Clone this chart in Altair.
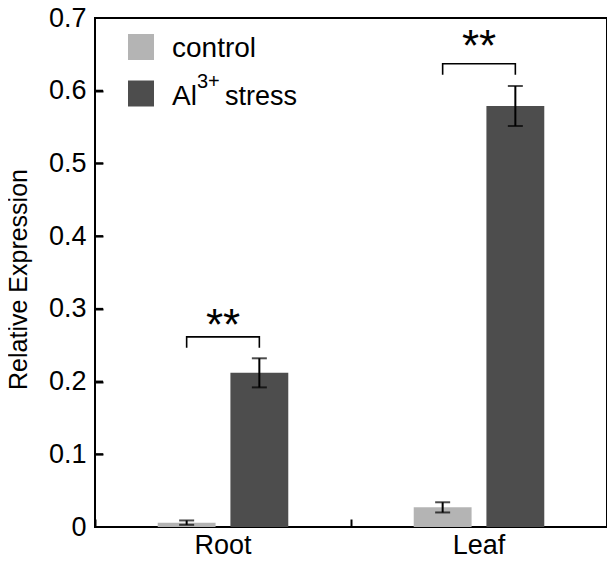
import altair as alt
import pandas as pd

tissues = ["Root", "Leaf"]
treatments = ["control", "Al3+ stress"]
control_mean = [0.006, 0.027]
control_err = [0.003, 0.007]
stress_mean = [0.212, 0.579]
stress_err = [0.020, 0.0275]
bracket_top = [0.2615, 0.637]
bracket_drop = [0.2465, 0.622]
star_level = [0.286, 0.670]
stars = ["**", "**"]
bar_colors = ["#b4b4b4", "#4d4d4d"]
y_ticks = [0, 0.1, 0.2, 0.3, 0.4, 0.5, 0.6, 0.7]
inner_ticks = [0.1, 0.2, 0.3, 0.4, 0.5, 0.6]

rows = []
for i, t in enumerate(tissues):
    rows.append({"tissue": t, "treatment": treatments[0], "mean": control_mean[i], "err": control_err[i]})
    rows.append({"tissue": t, "treatment": treatments[1], "mean": stress_mean[i], "err": stress_err[i]})
df = pd.DataFrame(rows)
df["lo"] = df["mean"] - df["err"]
df["hi"] = df["mean"] + df["err"]

brows = []
for i, t in enumerate(tissues):
    brows += [
        {"tissue": t, "treatment": treatments[0], "v": bracket_drop[i], "o": 0},
        {"tissue": t, "treatment": treatments[0], "v": bracket_top[i], "o": 1},
        {"tissue": t, "treatment": treatments[1], "v": bracket_top[i], "o": 2},
        {"tissue": t, "treatment": treatments[1], "v": bracket_drop[i], "o": 3},
    ]
bdf = pd.DataFrame(brows)
sdf = pd.DataFrame({"tissue": tissues, "level": star_level, "txt": stars})
tdf = pd.DataFrame({"tickval": inner_ticks})

FONT = "Liberation Sans"
PO, PI = 0.245, 0.49
W, H = 512, 509
xscale = alt.Scale(domain=tissues, paddingInner=PI, paddingOuter=PO)
oscale = alt.Scale(domain=treatments, paddingInner=0.204, paddingOuter=0)
yscale = alt.Scale(domain=[0, 0.7], nice=False, zero=True)

main_x_axis = alt.Axis(orient="bottom", title=None, ticks=False, domain=False, labelAngle=0,
                       labelFontSize=27, labelColor="black", labelPadding=26,
                       labelBaseline="alphabetic", labelFont=FONT)
main_y_axis = alt.Axis(orient="left", title="Relative Expression", values=y_ticks, ticks=False,
                       domain=False, grid=False, labelFontSize=27, labelColor="black",
                       labelPadding=9, titleFontSize=25, titleFontWeight="normal",
                       titleColor="black", titleX=-64, titleY=261, labelFont=FONT, titleFont=FONT,
                       labelExpr="datum.value == 0 ? '0' : format(datum.value, '.1f')")

X = alt.X("tissue:N", sort=tissues, scale=xscale, axis=main_x_axis)
Xn = alt.X("tissue:N", sort=tissues, scale=xscale, axis=None)
XO = alt.XOffset("treatment:N", sort=treatments, scale=oscale)

bars = alt.Chart(df).mark_bar().encode(
    x=X, xOffset=XO,
    y=alt.Y("mean:Q", scale=yscale, axis=main_y_axis),
    color=alt.Color("treatment:N", scale=alt.Scale(domain=treatments, range=bar_colors), legend=None),
)

err_rule = alt.Chart(df).mark_rule(color="black", strokeWidth=2).encode(
    x=Xn, xOffset=XO, y=alt.Y("lo:Q", scale=yscale, axis=None), y2="hi:Q")
cap_lo = alt.Chart(df).mark_tick(color="black", size=15, thickness=2).encode(
    x=Xn, xOffset=XO, y=alt.Y("lo:Q", scale=yscale, axis=None))
cap_hi = alt.Chart(df).mark_tick(color="black", size=15, thickness=2).encode(
    x=Xn, xOffset=XO, y=alt.Y("hi:Q", scale=yscale, axis=None))

bracket = alt.Chart(bdf).mark_line(color="black", strokeWidth=1.6).encode(
    x=Xn, xOffset=XO, y=alt.Y("v:Q", scale=yscale, axis=None), detail="tissue:N", order="o:Q")

star_text = alt.Chart(sdf).mark_text(fontSize=44, font=FONT, color="black", dy=8).encode(
    x=Xn, y=alt.Y("level:Q", scale=yscale, axis=None), text="txt:N")

# inward ticks: bottom (between categories) and left edge, as extra axes
tick_layer = alt.Chart(df).mark_point(opacity=0).encode(
    x=alt.X("tissue:N", sort=tissues, scale=xscale,
            axis=alt.Axis(orient="bottom", offset=-8, title=None, labels=False, domain=False,
                          ticks=True, tickSize=8, tickWidth=2, tickColor="black",
                          bandPosition=-PO / (1 - PI))),
    y=alt.Y("mean:Q", scale=yscale,
            axis=alt.Axis(orient="right", offset=-W, title=None, labels=False, domain=False,
                          ticks=True, tickSize=8, tickWidth=2, tickColor="black", grid=False,
                          values=inner_ticks)),
)

# inward ticks on the left edge, drawn as short rules as well
y_inner = alt.Chart(tdf).mark_rule(color="black", strokeWidth=2).encode(
    y=alt.Y("tickval:Q", scale=yscale, axis=None), x=alt.value(0), x2=alt.value(8))

# manual legend
one = pd.DataFrame({"k": [0]})
leg_sq1 = alt.Chart(one).mark_square(size=676, opacity=1, color=bar_colors[0]).encode(
    x=alt.value(46), y=alt.value(29))
leg_sq2 = alt.Chart(one).mark_square(size=676, opacity=1, color=bar_colors[1]).encode(
    x=alt.value(46), y=alt.value(75.5))
leg_t1 = alt.Chart(pd.DataFrame({"t": ["control"]})).mark_text(
    fontSize=28, font=FONT, align="left", baseline="alphabetic", color="black").encode(
    x=alt.value(77), y=alt.value(39), text="t:N")
leg_t2 = alt.Chart(pd.DataFrame({"t": ["Al"]})).mark_text(
    fontSize=28, font=FONT, align="left", baseline="alphabetic", color="black").encode(
    x=alt.value(77), y=alt.value(87), text="t:N")
leg_t3 = alt.Chart(pd.DataFrame({"t": ["3+"]})).mark_text(
    fontSize=20, font=FONT, align="left", baseline="alphabetic", color="black").encode(
    x=alt.value(102), y=alt.value(70), text="t:N")
leg_t4 = alt.Chart(pd.DataFrame({"t": ["stress"]})).mark_text(
    fontSize=27, font=FONT, align="left", baseline="alphabetic", color="black").encode(
    x=alt.value(130), y=alt.value(87), text="t:N")

chart = alt.layer(
    bars, err_rule, cap_lo, cap_hi, bracket, star_text, tick_layer, y_inner,
    leg_sq1, leg_sq2, leg_t1, leg_t2, leg_t3, leg_t4,
).resolve_axis(x="independent", y="independent").properties(
    width=W, height=H,
    autosize=alt.AutoSizeParams(type="none"),
    padding={"left": 87, "top": 10, "right": 0, "bottom": 28},
).configure(font=FONT, background="white").configure_view(stroke="black", strokeWidth=2)

chart.save("out.html", embed_options={"renderer": "svg", "actions": False})
